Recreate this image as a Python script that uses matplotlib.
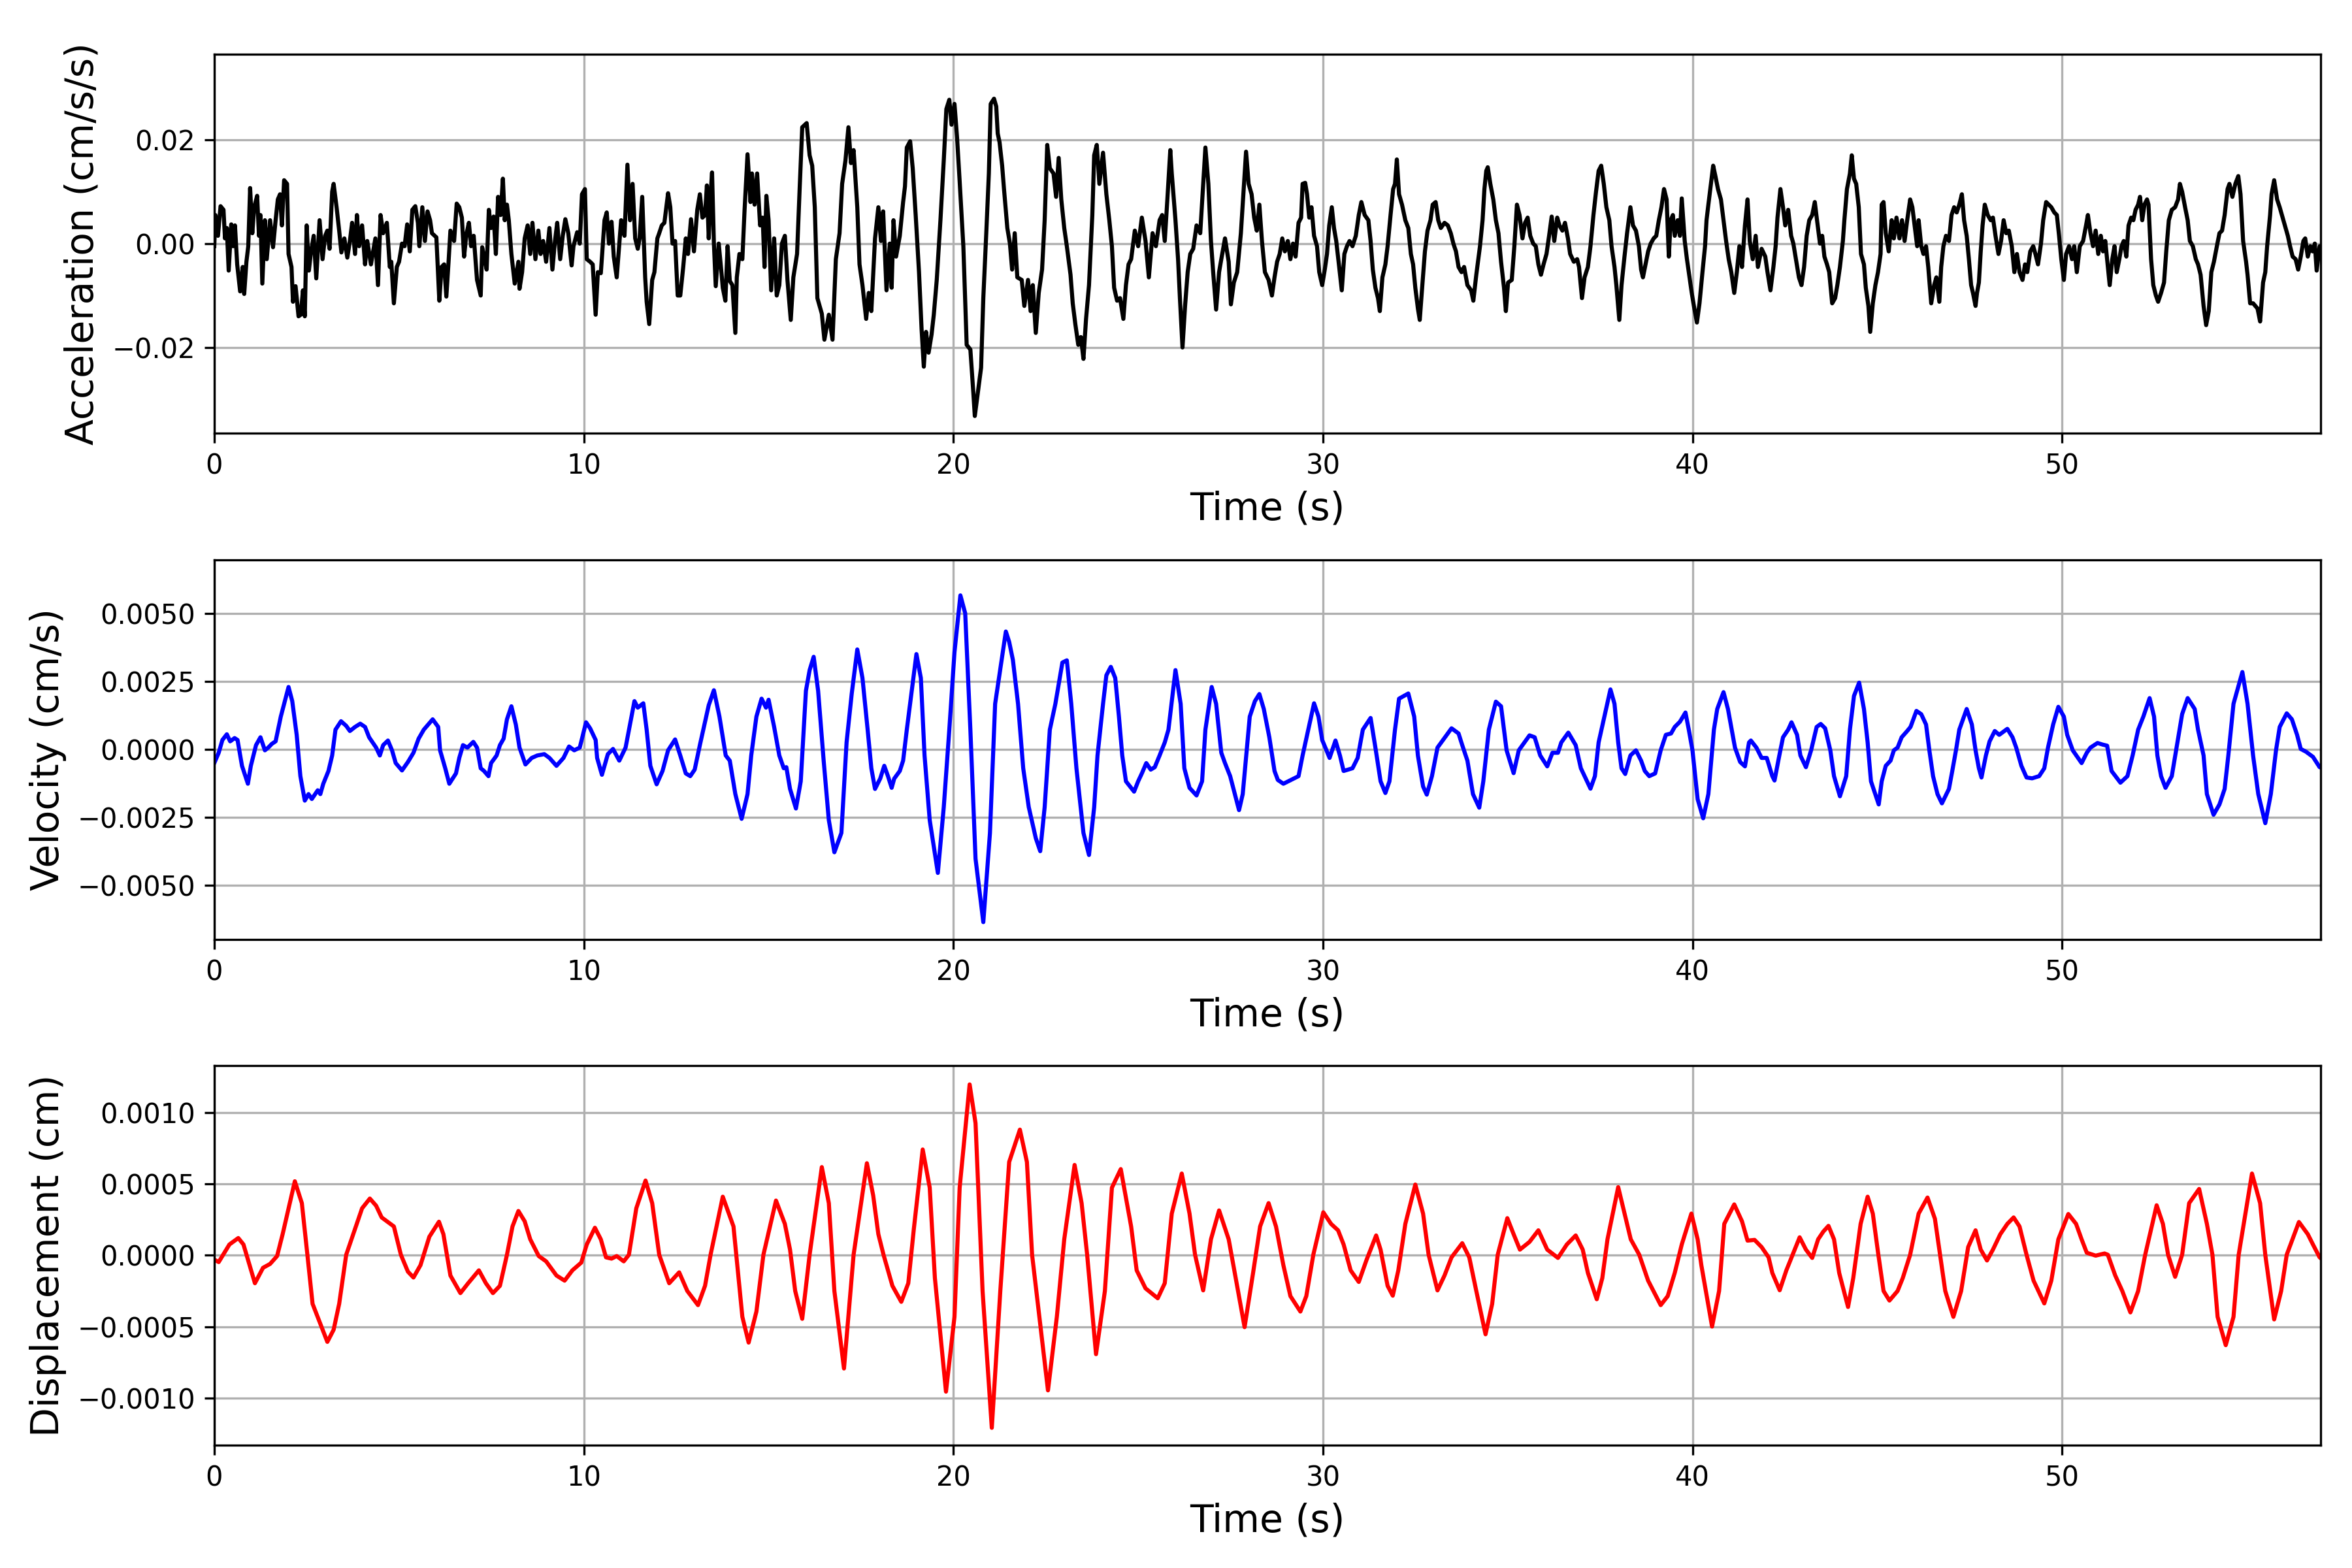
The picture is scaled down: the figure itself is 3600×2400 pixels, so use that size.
import numpy as np
import matplotlib
matplotlib.use("Agg")
import matplotlib.pyplot as plt

# ---------------- data ----------------
# Acceleration: values in units of 1e-3 cm/s/s
t_acc = [
 0.00,0.03,0.10,0.17,0.25,0.29,0.34,0.39,0.46,0.51,0.56,0.62,0.70,0.77,0.81,0.87,0.92,0.97,1.03,1.08,
 1.16,1.21,1.25,1.30,1.37,1.42,1.51,1.59,1.66,1.72,1.78,1.83,1.89,1.97,2.01,2.09,2.13,2.20,2.28,2.34,
 2.40,2.45,2.50,2.56,2.61,2.69,2.76,2.85,2.93,3.00,3.06,3.12,3.19,3.23,3.31,3.38,3.44,3.52,3.60,3.67,
 3.73,3.81,3.86,3.92,4.00,4.08,4.14,4.24,4.36,4.43,4.50,4.57,4.67,4.75,4.79,4.86,4.94,5.00,5.08,5.15,
 5.22,5.29,5.36,5.44,5.51,5.55,5.63,5.70,5.77,5.84,5.89,6.01,6.09,6.15,6.22,6.28,6.34,6.39,6.49,6.56,
 6.63,6.70,6.76,6.82,6.89,6.95,7.02,7.11,7.21,7.25,7.33,7.37,7.43,7.49,7.56,7.62,7.68,7.75,7.81,7.86,
 7.92,7.97,8.04,8.13,8.23,8.26,8.33,8.40,8.48,8.55,8.61,8.69,8.77,8.83,8.90,8.98,9.07,9.15,9.22,9.28,
 9.36,9.43,9.50,9.58,9.67,9.72,9.82,9.89,9.95,10.03,10.08,10.17,10.24,10.32,10.38,10.46,10.51,10.56,10.62,10.68,
 10.75,10.81,10.89,10.96,11.01,11.10,11.18,11.25,11.32,11.39,11.46,11.51,11.58,11.66,11.70,11.77,11.85,11.91,11.99,12.04,
 12.11,12.18,12.28,12.34,12.40,12.47,12.54,12.61,12.69,12.76,12.82,12.90,12.98,13.07,13.14,13.21,13.28,13.33,13.38,13.43,
 13.47,13.52,13.57,13.65,13.71,13.76,13.83,13.89,13.95,14.02,14.10,14.14,14.21,14.29,14.35,14.43,14.51,14.55,14.62,14.69,
 14.77,14.84,14.89,14.94,15.00,15.07,15.15,15.22,15.29,15.36,15.44,15.51,15.60,15.67,15.77,15.84,15.91,16.03,16.11,16.18,
 16.25,16.32,16.44,16.51,16.63,16.73,16.82,16.92,16.99,17.08,17.16,17.23,17.30,17.40,17.46,17.54,17.64,17.71,17.78,17.88,
 17.97,18.04,18.10,18.19,18.28,18.33,18.38,18.45,18.55,18.64,18.69,18.74,18.83,18.90,18.98,19.07,19.14,19.20,19.26,19.33,
 19.41,19.47,19.55,19.65,19.74,19.81,19.89,19.95,20.03,20.10,20.17,20.27,20.36,20.46,20.54,20.58,20.65,20.75,20.81,20.89,
 20.96,21.01,21.10,21.16,21.20,21.25,21.32,21.37,21.46,21.53,21.59,21.66,21.73,21.85,21.92,22.02,22.09,22.15,22.23,22.31,
 22.40,22.47,22.54,22.61,22.71,22.78,22.85,22.92,23.00,23.07,23.17,23.23,23.30,23.38,23.45,23.52,23.59,23.67,23.76,23.81,
 23.88,23.95,24.05,24.14,24.22,24.29,24.35,24.43,24.51,24.60,24.67,24.74,24.81,24.91,25.00,25.10,25.20,25.29,25.39,25.48,
 25.58,25.65,25.72,25.79,25.87,25.91,26.01,26.08,26.13,26.20,26.27,26.34,26.41,26.49,26.58,26.68,26.76,26.82,26.90,26.97,
 27.03,27.11,27.19,27.25,27.35,27.45,27.51,27.59,27.68,27.78,27.86,27.92,27.99,28.07,28.14,28.21,28.28,28.35,28.43,28.53,
 28.62,28.69,28.76,28.83,28.90,28.97,29.05,29.12,29.19,29.26,29.34,29.41,29.45,29.52,29.57,29.63,29.69,29.76,29.84,29.90,
 29.98,30.05,30.11,30.17,30.24,30.30,30.36,30.44,30.51,30.58,30.65,30.72,30.80,30.89,30.97,31.04,31.13,31.23,31.29,31.35,
 31.42,31.49,31.54,31.61,31.69,31.75,31.83,31.90,31.95,32.00,32.06,32.14,32.23,32.31,32.38,32.44,32.50,32.57,32.62,32.69,
 32.76,32.83,32.91,32.97,33.05,33.12,33.19,33.29,33.38,33.46,33.53,33.60,33.67,33.75,33.82,33.91,34.01,34.07,34.15,34.25,
 34.32,34.37,34.42,34.46,34.53,34.61,34.68,34.75,34.82,34.90,34.95,35.01,35.11,35.18,35.25,35.32,35.40,35.47,35.54,35.61,
 35.69,35.76,35.83,35.90,35.97,36.05,36.12,36.19,36.26,36.34,36.40,36.48,36.55,36.63,36.69,36.79,36.88,36.93,37.01,37.08,
 37.17,37.24,37.32,37.39,37.46,37.53,37.60,37.67,37.75,37.81,37.89,37.94,38.02,38.08,38.16,38.23,38.32,38.39,38.47,38.55,
 38.61,38.66,38.73,38.80,38.87,38.95,39.02,39.09,39.16,39.23,39.30,39.36,39.41,39.47,39.52,39.60,39.66,39.71,39.79,39.85,
 39.90,39.98,40.05,40.12,40.19,40.27,40.34,40.38,40.43,40.50,40.56,40.62,40.69,40.77,40.84,40.91,40.98,41.05,41.13,41.20,
 41.27,41.34,41.42,41.49,41.55,41.63,41.71,41.77,41.87,41.97,42.03,42.11,42.19,42.25,42.30,42.38,42.45,42.51,42.59,42.67,
 42.73,42.80,42.88,42.95,43.02,43.09,43.16,43.24,43.31,43.37,43.45,43.51,43.57,43.64,43.70,43.78,43.86,43.92,43.99,44.07,
 44.11,44.18,44.26,44.31,44.37,44.43,44.50,44.56,44.64,44.69,44.76,44.81,44.88,44.95,45.02,45.09,45.12,45.17,45.23,45.31,
 45.39,45.45,45.52,45.60,45.67,45.74,45.81,45.89,45.95,46.01,46.08,46.12,46.19,46.25,46.32,46.38,46.46,46.54,46.60,46.68,
 46.73,46.79,46.86,46.94,47.01,47.08,47.15,47.22,47.29,47.35,47.42,47.48,47.54,47.59,47.66,47.70,47.75,47.80,47.85,47.91,
 47.99,48.07,48.13,48.20,48.28,48.35,48.42,48.49,48.56,48.64,48.71,48.78,48.85,48.93,49.00,49.06,49.14,49.22,49.28,49.35,
 49.43,49.49,49.57,49.64,49.71,49.79,49.86,49.92,49.98,50.05,50.11,50.19,50.27,50.33,50.40,50.48,50.57,50.65,50.70,50.77,
 50.84,50.91,50.98,51.05,51.11,51.17,51.22,51.29,51.36,51.42,51.48,51.55,51.61,51.67,51.74,51.80,51.87,51.93,51.99,52.06,
 52.11,52.17,52.23,52.30,52.34,52.41,52.47,52.54,52.60,52.68,52.76,52.82,52.89,52.97,53.06,53.14,53.19,53.25,53.33,53.40,
 53.46,53.54,53.62,53.68,53.75,53.83,53.90,53.97,54.04,54.11,54.19,54.26,54.33,54.40,54.48,54.53,54.61,54.69,54.77,54.83,
 54.90,54.98,55.02,55.09,55.17,55.23,55.29,55.36,55.44,55.50,55.55,55.63,55.67,55.74,55.82,55.89,55.95,56.03,56.11,56.17,
 56.24,56.32,56.39,56.46,56.53,56.58,56.65,56.72,56.78,56.84,56.89,56.97,57.00]
acc_e3 = [
 -0.5,5.5,1.5,7.2,6.5,1.0,3.0,-5.2,3.7,-0.5,3.5,-4.0,-9.2,-4.5,-9.7,-3.5,-0.5,10.7,2.0,7.0,
 9.2,1.5,5.5,-7.7,4.5,-3.0,4.5,-0.7,4.5,8.5,9.5,3.5,12.2,11.5,-2.0,-4.5,-11.2,-8.2,-14.0,-13.7,
 -9.0,-14.0,3.5,-5.2,-2.0,1.5,-6.7,4.5,-3.0,1.5,2.5,-1.0,10.0,11.5,7.0,2.5,-1.7,1.0,-2.7,0.5,
 4.0,-2.0,5.5,-0.5,3.5,-4.0,0.5,-4.0,1.0,-8.0,5.5,2.0,4.0,-4.5,-3.5,-11.5,-4.5,-3.5,0.0,-0.5,
 3.7,-1.5,6.5,7.2,4.0,-0.5,7.0,0.5,6.2,4.5,2.0,1.2,-11.0,-4.5,-4.0,-10.2,-3.5,2.5,0.5,7.7,
 7.0,5.0,-2.5,1.7,4.0,-0.5,1.5,-7.0,-10.0,-0.7,-3.5,-5.0,6.5,3.0,5.2,-2.0,9.0,5.5,12.5,4.5,
 7.5,4.5,-2.0,-7.7,-3.5,-8.7,-5.5,1.0,3.5,-2.0,4.0,-3.0,2.5,-2.0,0.5,-3.5,3.0,-5.0,0.5,4.0,
 -3.0,1.5,4.7,2.0,-4.2,-0.5,2.2,0.0,9.5,10.5,-3.0,-3.5,-4.0,-13.7,-5.5,-5.7,-0.5,4.5,6.0,0.0,
 4.2,-2.5,-6.5,0.0,4.5,1.5,15.2,4.5,11.5,1.0,-1.0,1.0,9.0,-6.5,-11.2,-15.5,-7.0,-5.5,1.0,2.0,
 3.5,4.0,9.7,7.0,0.0,0.5,-10.0,-10.0,-4.5,1.0,-2.0,4.7,-1.5,6.5,9.5,5.0,5.5,11.2,1.0,9.5,
 13.7,0.0,-8.2,0.0,-4.5,-8.5,-11.0,-0.5,-7.2,-8.0,-17.2,-6.5,-2.0,-3.0,6.5,17.2,8.0,13.5,7.5,13.5,
 3.5,5.0,-4.5,9.2,4.5,-9.0,1.0,-10.0,-8.0,0.0,1.5,-7.0,-14.7,-6.5,-2.0,10.5,22.4,23.2,17.0,15.0,
 7.0,-10.5,-13.5,-18.5,-13.7,-18.5,-3.0,2.0,11.5,16.0,22.4,15.5,18.0,7.0,-4.0,-8.0,-14.5,-9.5,-13.0,1.0,
 7.0,0.5,6.2,-9.0,0.0,-8.5,4.5,-2.5,1.5,8.0,11.0,18.5,19.7,14.5,5.5,-5.5,-16.5,-23.7,-17.0,-21.0,
 -17.5,-13.7,-7.0,4.5,16.0,25.9,27.7,22.9,26.9,20.4,12.0,-0.5,-19.5,-20.4,-28.7,-33.2,-29.4,-23.9,-10.5,2.0,
 13.5,26.9,27.9,26.4,21.2,19.5,15.0,10.5,3.0,0.0,-5.0,2.0,-6.5,-7.0,-12.0,-7.0,-13.0,-8.0,-17.2,-9.5,
 -5.0,4.5,19.0,14.5,13.5,9.0,16.5,8.5,3.0,-0.5,-6.0,-11.5,-15.5,-19.5,-18.0,-22.2,-14.5,-8.0,5.5,17.0,
 19.0,11.5,17.5,9.5,4.5,-0.5,-8.5,-11.0,-10.5,-14.5,-8.0,-4.0,-3.0,2.5,-0.5,5.0,0.5,-6.5,2.0,-0.5,
 4.5,5.5,0.5,8.5,18.0,13.5,4.5,-3.0,-10.5,-20.0,-12.0,-5.5,-2.0,-1.0,3.5,2.0,11.5,18.5,11.5,0.5,
 -5.5,-12.7,-5.5,-3.0,1.0,-3.5,-11.7,-7.5,-5.5,2.0,11.0,17.7,11.5,9.5,5.0,2.5,7.5,0.5,-5.5,-7.0,
 -10.0,-6.5,-3.5,-2.0,1.0,-1.5,0.5,-3.0,0.0,-2.5,4.0,5.0,11.5,11.7,9.5,5.0,7.0,1.5,-0.5,-5.5,
 -8.0,-5.0,-2.0,3.5,7.0,3.0,0.5,-4.5,-9.0,-2.0,-0.5,0.5,-0.5,1.5,5.5,8.0,5.5,4.5,0.5,-5.0,
 -8.5,-10.5,-13.0,-6.5,-4.0,-0.5,5.5,10.5,11.5,16.2,9.5,7.5,4.5,3.0,-2.0,-4.0,-8.5,-12.5,-14.7,-8.0,
 -1.5,2.5,4.5,7.5,8.0,4.5,3.0,4.0,3.5,2.0,0.0,-1.5,-4.5,-5.5,-4.5,-8.0,-9.0,-11.0,-6.0,-0.5,
 4.5,10.5,14.0,14.7,11.5,8.5,4.5,2.0,-3.5,-8.5,-13.0,-7.5,-7.0,-0.5,7.5,5.5,1.0,4.0,5.0,1.5,
 0.0,-0.5,-4.0,-6.0,-4.0,-2.0,1.5,5.2,0.5,5.0,3.5,2.5,4.0,1.0,-2.0,-3.5,-3.0,-4.5,-10.5,-6.5,
 -4.5,-0.5,5.5,10.0,14.0,15.0,11.5,7.0,4.5,-0.5,-4.5,-8.0,-14.7,-8.0,-2.5,2.0,7.0,3.5,2.5,-0.5,
 -5.0,-6.5,-4.0,-1.5,0.0,1.0,1.5,4.5,7.0,10.5,8.5,-2.5,4.5,5.5,1.5,4.5,1.5,8.7,0.5,-3.0,
 -5.5,-9.5,-12.5,-15.2,-11.5,-5.5,-0.5,4.5,7.5,11.5,15.0,13.0,10.5,8.5,4.5,0.5,-3.0,-5.5,-9.5,-5.5,
 -0.5,-4.5,3.5,8.5,0.5,-3.0,1.5,-4.5,-1.0,-2.5,-5.5,-9.0,-4.5,-0.5,5.0,10.5,7.0,3.5,6.5,1.5,
 0.0,-3.0,-6.5,-8.0,-4.5,1.5,4.5,5.5,8.0,4.5,0.0,1.5,-2.5,-4.0,-5.5,-11.5,-10.5,-8.0,-4.5,0.5,
 4.5,10.5,13.5,17.0,12.5,11.5,7.0,-2.0,-4.0,-8.5,-12.0,-17.0,-11.5,-8.0,-5.5,-2.0,7.5,8.0,2.0,-1.5,
 4.5,1.0,5.0,1.0,4.5,0.5,4.5,8.5,7.0,3.5,-0.5,4.5,-0.5,-2.0,-0.5,-4.5,-11.5,-8.0,-6.5,-11.2,
 -4.5,-0.5,1.5,0.5,5.5,7.0,6.0,7.5,9.5,4.5,1.5,-3.0,-8.0,-9.5,-12.0,-9.5,-7.5,-1.5,3.5,7.5,
 5.5,4.5,5.0,1.5,-2.0,0.5,4.5,2.0,2.5,-0.5,-5.5,-2.0,-5.5,-7.0,-4.0,-5.5,-1.5,-0.5,-2.0,-4.0,
 0.0,4.5,8.0,7.5,7.0,6.0,5.5,1.5,-3.0,-7.0,-2.0,-0.5,-3.0,-0.5,-5.5,-0.5,0.5,3.5,5.5,2.0,
 -0.5,2.5,-2.0,1.5,-1.5,0.5,-3.0,-8.0,-3.0,-0.5,-5.5,-3.0,-0.5,0.5,-2.5,3.5,5.0,4.5,6.5,7.5,
 9.0,4.5,7.5,8.5,7.5,-3.0,-8.0,-10.0,-11.2,-9.5,-7.5,-1.5,4.5,6.5,7.0,8.5,11.5,10.0,7.0,4.5,
 0.5,-0.5,-3.0,-4.0,-6.0,-12.0,-15.7,-13.0,-5.5,-3.5,-0.5,2.0,2.5,5.5,10.5,11.5,9.0,11.5,13.0,9.5,
 0.5,-3.5,-6.0,-11.5,-11.5,-12.0,-12.5,-15.0,-7.5,-5.5,-0.5,5.5,9.5,12.2,8.5,7.0,5.5,3.5,1.5,-0.5,
 -2.5,-3.0,-5.0,-2.5,0.5,1.0,-2.5,-0.5,-1.5,0.0,-5.2,-0.5,-1.0]

# Velocity: values in units of 1e-4 cm/s
t_vel = [
 0.00,0.12,0.22,0.34,0.43,0.55,0.63,0.75,0.91,0.99,1.13,1.25,1.37,1.46,1.56,1.66,1.80,2.01,2.11,2.23,
 2.33,2.45,2.55,2.64,2.80,2.87,2.95,3.09,3.19,3.28,3.43,3.57,3.67,3.81,3.95,4.08,4.19,4.38,4.48,4.57,
 4.70,4.81,4.91,5.08,5.24,5.39,5.53,5.67,5.91,6.06,6.11,6.25,6.36,6.54,6.63,6.73,6.85,7.01,7.11,7.21,
 7.30,7.42,7.49,7.64,7.73,7.83,7.92,8.04,8.16,8.26,8.42,8.59,8.74,8.93,9.07,9.26,9.45,9.60,9.74,9.89,
 10.06,10.17,10.32,10.36,10.49,10.65,10.79,10.96,11.13,11.37,11.46,11.61,11.70,11.80,11.97,12.13,12.28,12.47,12.61,12.76,
 12.88,13.00,13.14,13.38,13.52,13.67,13.84,13.95,14.10,14.27,14.43,14.53,14.67,14.81,14.93,15.00,15.15,15.29,15.41,15.48,
 15.58,15.74,15.87,16.01,16.11,16.22,16.34,16.49,16.63,16.78,16.97,17.11,17.25,17.40,17.54,17.68,17.78,17.88,18.02,18.13,
 18.23,18.33,18.40,18.55,18.64,18.74,19.00,19.12,19.22,19.36,19.58,19.74,19.89,20.03,20.19,20.32,20.46,20.60,20.81,20.99,
 21.13,21.42,21.51,21.61,21.75,21.89,22.04,22.23,22.35,22.47,22.61,22.76,22.95,23.07,23.19,23.33,23.52,23.67,23.81,23.90,
 24.05,24.14,24.26,24.38,24.48,24.57,24.67,24.89,25.00,25.10,25.22,25.34,25.45,25.58,25.72,25.82,26.01,26.15,26.25,26.39,
 26.58,26.73,26.82,26.99,27.11,27.25,27.35,27.49,27.73,27.83,28.02,28.16,28.28,28.40,28.55,28.69,28.78,28.93,29.21,29.34,
 29.45,29.76,29.88,29.98,30.18,30.34,30.46,30.56,30.80,30.94,31.08,31.29,31.42,31.56,31.69,31.80,31.95,32.06,32.31,32.47,
 32.57,32.71,32.81,32.95,33.10,33.48,33.67,33.77,33.91,34.06,34.23,34.34,34.49,34.68,34.82,34.97,35.16,35.30,35.40,35.59,
 35.73,35.88,36.07,36.21,36.36,36.45,36.64,36.84,36.98,37.24,37.36,37.46,37.78,37.89,37.99,38.08,38.18,38.32,38.47,38.61,
 38.71,38.83,38.99,39.14,39.28,39.42,39.52,39.66,39.81,39.90,40.00,40.14,40.29,40.43,40.58,40.67,40.84,40.96,41.15,41.29,
 41.42,41.53,41.58,41.73,41.87,42.01,42.16,42.22,42.35,42.45,42.59,42.68,42.83,42.92,43.07,43.21,43.36,43.47,43.59,43.73,
 43.83,43.99,44.16,44.26,44.37,44.51,44.64,44.74,44.83,45.04,45.12,45.23,45.36,45.45,45.55,45.66,45.81,45.90,46.06,46.19,
 46.32,46.41,46.51,46.63,46.75,46.94,47.03,47.13,47.22,47.42,47.56,47.66,47.75,47.82,47.94,48.04,48.18,48.30,48.52,48.66,
 48.76,48.90,49.04,49.19,49.38,49.52,49.62,49.76,49.90,50.05,50.14,50.29,50.53,50.67,50.77,50.96,51.10,51.22,51.34,51.58,
 51.77,51.91,52.06,52.20,52.37,52.49,52.58,52.68,52.80,52.97,53.11,53.25,53.40,53.59,53.68,53.83,53.92,54.10,54.26,54.40,
 54.50,54.64,54.88,55.02,55.17,55.31,55.50,55.65,55.79,55.89,56.08,56.22,56.36,56.46,56.60,56.79,56.97,57.00]
vel_e4 = [
 -5.0,-1.2,3.5,5.6,3.0,4.2,3.5,-6.0,-12.6,-6.0,1.6,4.5,-0.3,0.7,2.1,3.0,12.1,23.0,17.8,5.4,
 -9.8,-18.8,-16.4,-18.2,-15.0,-16.4,-12.6,-7.9,-2.2,7.3,10.4,8.7,6.8,8.3,9.5,8.3,4.5,0.7,-2.2,1.6,
 3.3,-0.3,-5.0,-7.7,-4.6,-1.2,4.0,7.3,11.1,8.3,-0.3,-6.9,-12.6,-8.8,-3.1,1.6,0.7,2.8,0.7,-6.9,
 -7.9,-9.8,-5.0,-2.2,1.6,4.0,11.1,15.9,9.2,0.7,-5.5,-3.1,-2.2,-1.7,-3.1,-6.0,-3.1,1.1,-0.3,0.7,
 10.0,7.8,3.5,-3.1,-9.3,-1.7,0.2,-4.1,0.7,17.8,15.4,17.0,7.3,-6.0,-12.8,-7.9,-0.3,3.7,-2.2,-8.8,
 -9.8,-7.4,1.6,16.3,21.8,12.1,-2.2,-4.1,-16.4,-25.5,-16.4,-2.2,12.1,18.7,15.4,18.3,8.3,-2.2,-6.9,-6.5,
 -14.5,-21.7,-11.7,21.6,29.2,34.1,21.6,-4.1,-26.0,-37.8,-30.7,2.6,20.6,36.8,26.3,7.3,-6.9,-14.5,-10.7,-6.0,
 -9.8,-14.1,-10.7,-7.9,-4.1,7.3,35.1,26.3,-2.2,-26.0,-45.4,-21.2,7.3,35.8,56.7,50.1,7.3,-40.2,-63.5,-30.7,
 16.8,43.4,39.6,33.0,16.8,-6.9,-21.2,-32.6,-37.4,-21.2,7.3,16.8,32.0,32.8,16.8,-6.9,-30.7,-38.8,-21.2,-2.2,
 16.8,27.3,30.4,26.3,12.1,-2.2,-11.7,-15.5,-11.7,-8.8,-5.0,-7.4,-6.5,-2.2,2.6,7.3,29.2,16.8,-6.9,-14.1,
 -16.9,-11.7,7.3,23.0,16.8,-1.2,-5.0,-9.8,-22.3,-16.4,12.1,17.8,20.4,14.9,4.5,-7.9,-11.2,-12.6,-10.7,-9.8,
 -2.2,17.0,12.1,3.5,-3.1,3.3,-2.2,-7.9,-6.9,-3.1,7.3,11.6,0.7,-11.7,-16.0,-11.7,7.3,18.7,20.6,12.1,
 -2.2,-13.6,-16.6,-9.8,0.7,7.8,5.9,1.6,-4.1,-16.4,-21.4,-11.7,7.3,17.6,15.9,-0.3,-8.7,-0.3,1.6,5.2,
 4.5,-2.2,-6.2,-1.2,-1.2,2.6,6.2,1.6,-6.9,-14.4,-9.8,2.6,22.1,16.8,2.6,-6.9,-9.0,-2.2,-0.3,-4.1,
 -7.9,-9.8,-8.8,-0.3,5.4,5.9,8.3,10.2,13.6,7.3,-0.3,-18.3,-25.3,-16.4,7.3,14.9,21.1,14.9,0.7,-4.6,
 -6.2,2.6,3.3,0.7,-3.1,-3.1,-9.8,-11.4,-2.2,4.5,7.3,10.0,5.4,-2.2,-6.5,-0.3,8.3,9.4,7.8,-0.3,
 -9.8,-17.2,-9.8,7.3,19.7,24.6,14.9,2.6,-11.7,-20.2,-11.7,-6.0,-4.1,-0.3,0.7,4.5,6.8,8.3,14.2,13.0,
 9.2,-0.3,-9.8,-16.4,-19.8,-14.5,-7.9,-0.3,7.3,14.9,9.2,-0.3,-6.9,-10.3,-2.2,3.0,6.8,5.4,7.6,4.5,
 0.7,-6.0,-10.3,-10.6,-9.8,-6.9,0.7,9.2,15.7,12.1,5.4,-0.3,-5.0,-1.2,0.7,2.4,1.8,1.4,-7.9,-12.2,
 -9.8,-2.2,7.3,12.1,18.9,12.1,-2.2,-9.8,-14.1,-9.8,1.6,13.0,18.9,14.9,7.3,-2.2,-16.4,-24.0,-20.2,-14.5,
 -2.2,16.8,28.5,16.8,-2.2,-16.4,-27.1,-16.4,-0.3,8.3,13.3,11.1,5.4,0.2,-0.8,-2.7,-6.5,-6.6]

# Displacement: values in units of 1e-5 cm
t_disp = [
 0.00,0.12,0.41,0.65,0.79,1.10,1.32,1.51,1.70,1.85,2.18,2.37,2.52,2.66,3.06,3.23,3.38,3.57,3.76,4.00,
 4.21,4.38,4.53,4.72,4.86,5.05,5.24,5.39,5.58,5.82,6.08,6.20,6.39,6.66,6.87,7.16,7.35,7.54,7.73,7.92,
 8.07,8.23,8.40,8.55,8.78,8.98,9.26,9.48,9.69,9.93,10.08,10.30,10.46,10.60,10.75,10.89,11.08,11.22,11.42,11.67,
 11.85,12.04,12.31,12.58,12.80,13.09,13.28,13.43,13.76,14.05,14.29,14.46,14.67,14.86,15.20,15.44,15.58,15.72,15.91,16.11,
 16.44,16.63,16.78,17.04,17.30,17.66,17.83,17.97,18.11,18.35,18.59,18.78,18.93,19.17,19.36,19.50,19.80,20.03,20.17,20.44,
 20.60,20.79,21.04,21.27,21.51,21.80,21.99,22.13,22.56,22.80,23.00,23.28,23.47,23.62,23.86,24.10,24.29,24.53,24.81,24.96,
 25.20,25.53,25.72,25.91,26.18,26.39,26.54,26.76,26.97,27.19,27.45,27.59,27.88,28.11,28.30,28.53,28.73,28.93,29.12,29.39,
 29.55,29.74,30.01,30.22,30.41,30.56,30.75,30.97,31.18,31.44,31.56,31.75,31.89,32.04,32.23,32.50,32.71,32.86,33.10,33.29,
 33.48,33.77,33.96,34.15,34.40,34.58,34.73,34.99,35.16,35.33,35.59,35.83,36.07,36.36,36.60,36.84,37.03,37.17,37.41,37.56,
 37.70,37.99,38.23,38.33,38.56,38.80,39.14,39.33,39.52,39.71,39.97,40.14,40.24,40.53,40.72,40.86,41.13,41.34,41.49,41.68,
 41.87,42.06,42.16,42.36,42.54,42.90,43.07,43.24,43.40,43.54,43.68,43.83,43.97,44.21,44.35,44.55,44.74,44.88,45.02,45.17,
 45.33,45.55,45.69,45.89,46.12,46.36,46.56,46.70,46.84,47.06,47.27,47.46,47.66,47.80,47.97,48.13,48.33,48.52,48.69,48.85,
 49.04,49.23,49.52,49.71,49.90,50.17,50.38,50.53,50.67,50.91,51.15,51.24,51.44,51.63,51.85,52.06,52.25,52.56,52.73,52.87,
 53.06,53.25,53.44,53.71,53.92,54.07,54.21,54.43,54.64,54.78,55.14,55.36,55.50,55.74,55.93,56.08,56.41,56.65,56.79,56.97,
 57.00]
disp_e5 = [
 -3.0,-4.7,7.6,12.1,7.6,-19.5,-8.7,-6.0,-0.5,14.8,51.8,36.5,0.4,-33.9,-60.5,-52.0,-33.9,0.4,14.8,32.9,
 39.7,34.7,26.5,22.9,20.2,0.4,-11.4,-15.5,-6.9,13.0,23.5,14.8,-14.1,-26.4,-19.5,-10.5,-19.5,-26.4,-21.3,0.4,
 20.2,31.0,23.8,11.2,-0.5,-4.2,-14.1,-17.7,-10.5,-5.1,7.6,19.3,11.2,-1.4,-2.3,-0.5,-4.2,0.4,32.9,52.3,
 36.5,0.4,-19.5,-11.9,-24.9,-34.8,-21.3,0.4,41.0,20.2,-43.0,-61.0,-39.3,0.4,38.3,22.0,4.0,-24.9,-44.4,0.4,
 61.7,36.5,-24.9,-79.1,0.4,64.4,41.9,14.8,0.4,-21.3,-32.5,-19.5,18.4,74.0,47.3,-15.9,-95.3,-43.0,47.3,119.5,
 92.4,-24.9,-120.6,-24.9,65.3,87.9,65.3,0.4,-94.4,-43.0,11.2,63.2,36.5,0.4,-69.1,-24.9,47.3,60.3,20.2,-10.5,
 -23.1,-30.0,-19.5,29.2,57.2,29.2,0.4,-24.5,11.2,31.4,11.2,-8.7,-50.2,-12.3,20.2,36.5,20.2,-6.9,-28.5,-39.3,
 -28.5,0.4,30.1,22.0,17.5,7.6,-10.5,-18.6,-3.2,13.9,4.0,-21.3,-28.2,-10.5,22.0,49.5,29.2,0.4,-24.5,-14.1,
 -1.4,8.5,-1.4,-24.9,-55.2,-33.9,0.4,26.0,14.8,4.0,9.4,17.5,4.0,-1.8,7.6,13.9,4.0,-12.3,-30.7,-15.9,
 11.2,47.7,22.0,11.2,0.4,-17.7,-34.8,-28.5,-12.3,7.6,29.2,11.2,-6.9,-49.8,-24.9,22.0,35.6,23.8,10.3,10.8,
 5.8,-1.4,-12.3,-24.4,-10.5,12.6,4.0,-1.8,11.2,16.6,20.6,11.2,-12.3,-36.1,-15.9,22.0,41.0,29.2,2.2,-24.9,
 -31.6,-24.9,-15.9,0.4,29.2,40.4,25.6,0.4,-24.9,-43.0,-24.9,5.8,17.5,4.0,-3.6,4.0,14.8,22.0,26.5,20.2,
 0.4,-17.7,-33.6,-17.7,11.2,28.9,22.0,11.2,1.8,-0.2,1.3,0.4,-14.1,-24.9,-39.9,-24.9,0.4,35.0,22.0,0.4,
 -15.0,0.4,36.5,46.4,22.0,0.4,-43.0,-62.8,-43.0,0.4,57.2,36.5,0.4,-44.8,-24.9,0.4,23.3,14.8,7.6,-1.4,
 -2.0]

x_ticks = [0, 10, 20, 30, 40, 50]

# ---------------- plotting ----------------
acc = np.array(acc_e3) * 1e-3
vel = np.array(vel_e4) * 1e-4
disp = np.array(disp_e5) * 1e-5

fig = plt.figure(figsize=(12, 8), dpi=300)
rects = [[0.0911, 0.7237, 0.8956, 0.2419],
         [0.0911, 0.4009, 0.8956, 0.2422],
         [0.0911, 0.0784, 0.8956, 0.2420]]
series = [(t_acc, acc, 'k', 'Acceleration (cm/s/s)'),
          (t_vel, vel, 'b', 'Velocity (cm/s)'),
          (t_disp, disp, 'r', 'Displacement (cm)')]

for rect, (t, y, c, lab) in zip(rects, series):
    ax = fig.add_axes(rect)
    ax.plot(t, y, color=c, lw=1.5)
    lim = 1.1 * np.max(np.abs(y))
    ax.set_ylim(-lim, lim)
    ax.set_xlim(0, 57)
    ax.set_xticks(x_ticks)
    ax.grid(True)
    ax.set_xlabel('Time (s)', fontsize=14)
    ax.set_ylabel(lab, fontsize=14)
    ax.tick_params(labelsize=10)

fig.savefig('out.png', dpi=300)
